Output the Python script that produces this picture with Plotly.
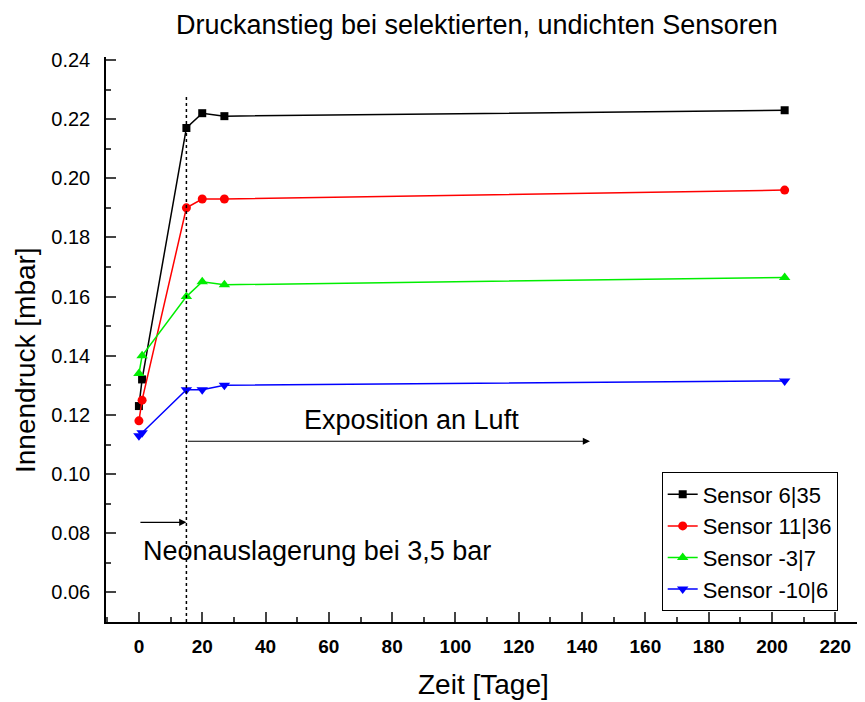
import plotly.graph_objects as go

x_days = [0, 1, 15, 20, 27, 204]
sensor_names = ["Sensor 6|35", "Sensor 11|36", "Sensor -3|7", "Sensor -10|6"]
s_6_35 = [0.123, 0.132, 0.217, 0.222, 0.221, 0.223]
s_11_36 = [0.118, 0.125, 0.190, 0.193, 0.193, 0.196]
s_m3_7 = [0.134, 0.140, 0.160, 0.165, 0.164, 0.1665]
s_m10_6 = [0.113, 0.114, 0.1285, 0.1285, 0.130, 0.1315]
x_ticks = list(range(0, 221, 20))
y_ticks = [0.06, 0.08, 0.10, 0.12, 0.14, 0.16, 0.18, 0.20, 0.22, 0.24]

colors = ["#000000", "#ff0000", "#00ee00", "#0000ff"]
symbols = ["square", "circle", "triangle-up", "triangle-down"]
msizes = [8, 9, 10, 10]

fig = go.Figure()
for name, ys, c, s, ms in zip(sensor_names, [s_6_35, s_11_36, s_m3_7, s_m10_6], colors, symbols, msizes):
    fig.add_trace(go.Scatter(x=x_days, y=ys, mode="lines+markers", name=name,
                             line=dict(color=c, width=1.5),
                             marker=dict(symbol=s, size=ms, color=c)))

font = "Liberation Sans, Arial, sans-serif"
fig.add_shape(type="line", x0=15, x1=15, y0=0.05, y1=0.2282,
              line=dict(color="black", width=1.5, dash="dot"))

fig.add_annotation(x=142.5, y=0.1111, ax=15, ay=0.1111, xref="x", yref="y", axref="x", ayref="y",
                   showarrow=True, arrowhead=2, arrowsize=1.2, arrowwidth=1.2, arrowcolor="black", text="")
fig.add_annotation(x=15, y=0.0837, ax=0, ay=0.0837, xref="x", yref="y", axref="x", ayref="y",
                   showarrow=True, arrowhead=2, arrowsize=1.2, arrowwidth=1.2, arrowcolor="black", text="")
fig.add_annotation(x=86, y=0.1182, text="Exposition an Luft", showarrow=False,
                   font=dict(family=font, size=27, color="black"))
fig.add_annotation(x=56.2, y=0.0739, text="Neonauslagerung bei 3,5 bar", showarrow=False,
                   font=dict(family=font, size=27, color="black"))
fig.add_annotation(x=0.5, y=-0.1115, xref="paper", yref="paper", xanchor="center", yanchor="middle",
                   text="Zeit [Tage]", showarrow=False, font=dict(family=font, size=28, color="black"))
fig.add_annotation(x=-0.1074, y=0.4637, xref="paper", yref="paper", xanchor="center", yanchor="middle",
                   textangle=-90, text="Innendruck [mbar]", showarrow=False,
                   font=dict(family=font, size=28, color="black"))

fig.update_layout(
    width=865, height=702,
    paper_bgcolor="white", plot_bgcolor="white",
    margin=dict(l=98, r=13, t=49, b=88),
    font=dict(family=font, color="black"),
    title=dict(text="Druckanstieg bei selektierten, undichten Sensoren", x=0.542, xanchor="center",
               y=0.976, yanchor="middle", font=dict(size=27, color="black")),
    showlegend=True,
    legend=dict(x=0.737, y=0.1416, xanchor="left", yanchor="middle", bgcolor="white",
                bordercolor="black", borderwidth=1, font=dict(size=22),
                tracegroupgap=0, itemwidth=30),
    xaxis=dict(range=[-10.4, 227.8], tickvals=x_ticks, ticks="inside", ticklen=10, tickwidth=1.5,
               showline=True, linecolor="black", linewidth=1.5, showgrid=False, zeroline=False,
               automargin=False, ticklabelstandoff=6,
               minor=dict(dtick=10, ticks="inside", ticklen=5, tickwidth=1.5, tick0=0),
               tickfont=dict(size=19, family=font, weight="bold")),
    yaxis=dict(range=[0.05, 0.241], tickvals=y_ticks, tickformat=".2f", ticks="inside", ticklen=10, tickwidth=1.5,
               showline=True, linecolor="black", linewidth=1.5, showgrid=False, zeroline=False,
               automargin=False, ticklabelstandoff=10,
               minor=dict(dtick=0.01, ticks="inside", ticklen=5, tickwidth=1.5, tick0=0),
               tickfont=dict(size=20)),
)

fig.write_html("out.html")
